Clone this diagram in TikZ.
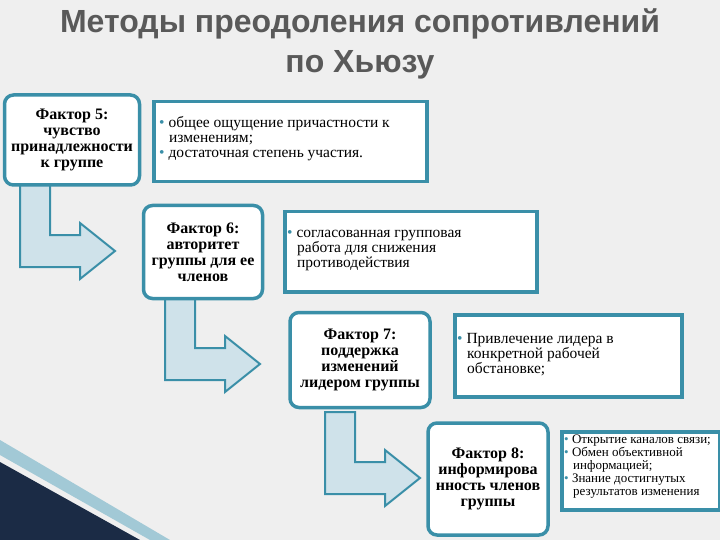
\documentclass[tikz,border=0pt]{standalone}
\usepackage{fontspec}
\setmainfont{Liberation Serif}
\newfontfamily\titlefont{Liberation Sans}
\definecolor{teal1}{HTML}{3A8FA8}
\definecolor{arrfill}{HTML}{CFE2EA}
\definecolor{bg}{HTML}{EFEFEF}
\definecolor{navy}{HTML}{1B2B45}
\tikzset{
 fbox/.style={draw=teal1,line width=3.5pt,fill=white,rounded corners=9pt,align=center,font=\bfseries\fontsize{16}{16}\selectfont,inner sep=1pt},
 tbox/.style={draw=teal1,line width=3.5pt,fill=white,anchor=north west,inner sep=0pt},
 ttext/.style={anchor=north west,align=left,font=\fontsize{15.5}{15}\selectfont,inner sep=0pt},
 barr/.style={draw=teal1,line width=2pt,fill=arrfill,line join=miter}
}
\newcommand\myarrow[2]{%
 \draw[barr] (#1,#2) -- ++(30,0) -- ++(0,50) -- ++(30,0) -- ++(0,-12) -- ++(35,28) -- ++(-35,28) -- ++(0,-12) -- ++(-60,0) -- cycle;}
\newcommand\bl{\textcolor{teal1}{•}~}
\begin{document}
\begin{tikzpicture}[x=1pt,y=-1pt]
\fill[bg] (0,0) rectangle (720,540);
\useasboundingbox (0,0) rectangle (720,540);
\fill[arrfill!70!teal1] (0,440) -- (170,540) -- (150,540) -- (0,455) -- cycle;
\fill[navy] (0,462) -- (140,540) -- (0,540) -- cycle;
\node[font=\titlefont\bfseries\fontsize{32}{40}\selectfont,text=black!65,align=center] (title) at (360,44) {Методы преодоления сопротивлений\\по Хьюзу};
\myarrow{20}{185}
\myarrow{165}{298}
\myarrow{325}{412}
\node[fbox,minimum width=135pt,minimum height=90pt] (f5) at (72,140) {Фактор 5:\\чувство\\принадлежности\\к группе};
\node[fbox,minimum width=119pt,minimum height=93pt] (f6) at (203,252) {Фактор 6:\\авторитет\\группы для ее\\членов};
\node[fbox,minimum width=140pt,minimum height=95pt] (f7) at (360,360) {Фактор 7:\\поддержка\\изменений\\лидером группы};
\node[fbox,minimum width=120pt,minimum height=112pt] (f8) at (488,479) {Фактор 8:\\информирова\\нность членов\\группы};
\node[tbox,minimum width=273pt,minimum height=80pt] (t5) at (152,100) {};
\node[ttext] (t5t) at ([shift={(7,16)}]t5.north west) {\bl общее ощущение причастности к\\\hspace*{10pt}изменениям;\\\bl достаточная степень участия.};
\node[tbox,minimum width=252pt,minimum height=80pt] (t6) at (283,210) {};
\node[ttext] (t6t) at ([shift={(4,20)}]t6.north west) {\bl согласованная групповая\\\hspace*{10pt}работа для снижения\\\hspace*{10pt}противодействия};
\node[tbox,minimum width=227pt,minimum height=82pt] (t7) at (453,313) {};
\node[ttext] (t7t) at ([shift={(4,20)}]t7.north west) {\bl Привлечение лидера в\\\hspace*{10pt}конкретной рабочей\\\hspace*{10pt}обстановке;};
\node[tbox,minimum width=158pt,minimum height=78pt] (t8) at (560,430) {};
\node[ttext,font=\fontsize{13}{13}\selectfont] (t8t) at ([shift={(4,5)}]t8.north west) {\bl Открытие каналов связи;\\\bl Обмен объективной\\\hspace*{9pt}информацией;\\\bl Знание достигнутых\\\hspace*{9pt}результатов изменения};
\end{tikzpicture}
\end{document}
